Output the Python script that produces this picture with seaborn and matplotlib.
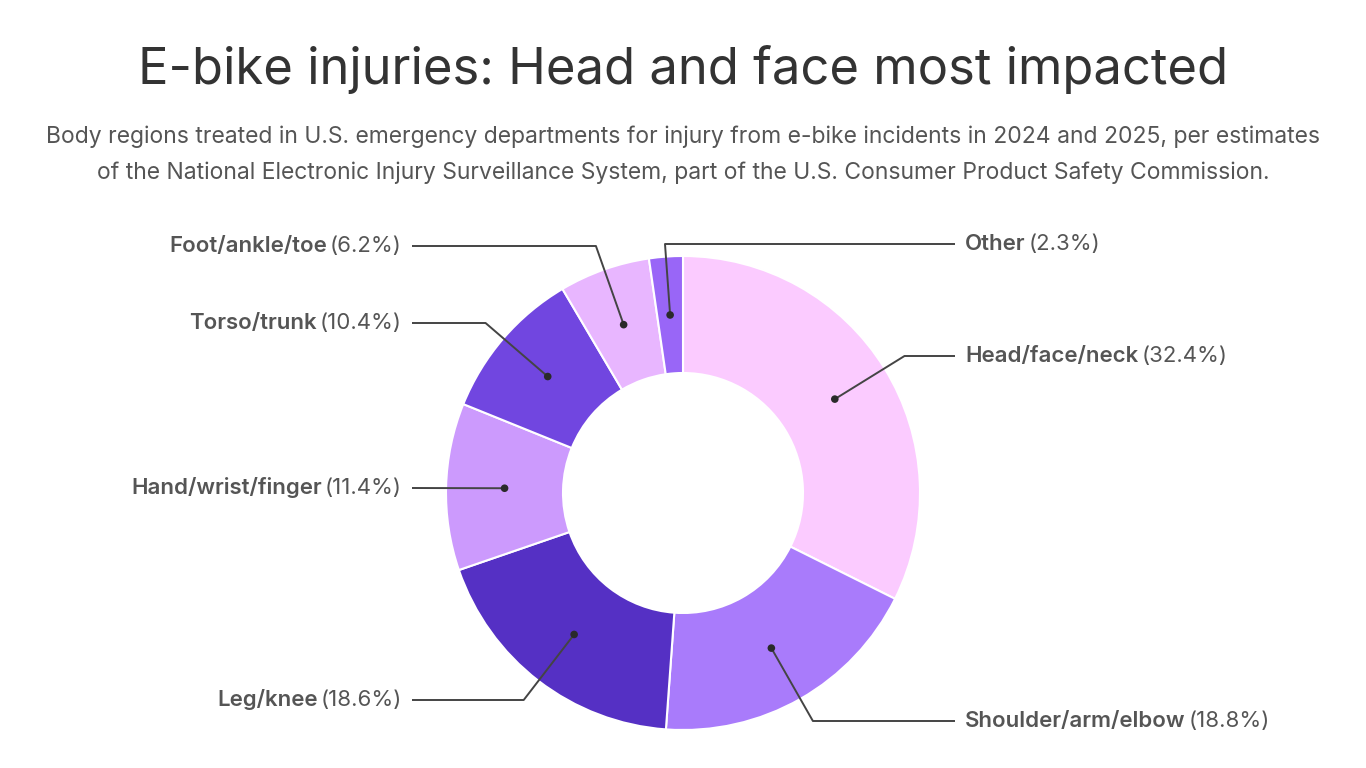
import matplotlib
matplotlib.use("Agg")
import matplotlib.pyplot as plt
import seaborn as sns
import numpy as np

# ---- data ----
categories = ["Head/face/neck", "Shoulder/arm/elbow", "Leg/knee", "Hand/wrist/finger",
              "Torso/trunk", "Foot/ankle/toe", "Other"]
shares = [32.4, 18.8, 18.6, 11.4, 10.4, 6.2, 2.3]
colors = ["#fbcbff", "#a97bfb", "#5530c4", "#cc9afd", "#7146e0", "#e8b6ff", "#9966f7"]
# layout: label row (pixel y from top) for each category, and side
label_rows = [356, 721, 700, 488, 323, 246, 244]
label_side = ["right", "right", "left", "left", "left", "left", "right"]

title = "E-bike injuries: Head and face most impacted"
subtitle = ["Body regions treated in U.S. emergency departments for injury from e-bike incidents in 2024 and 2025, per estimates",
            "of the National Electronic Injury Surveillance System, part of the U.S. Consumer Product Safety Commission."]

sns.set_theme(style="white")
plt.rcParams["font.family"] = ["Inter", "DejaVu Sans"]

W, H = 1366, 768
fig = plt.figure(figsize=(W / 100, H / 100), dpi=100)
ax = fig.add_axes([0, 0, 1, 1])

def Y(y):
    return H - y

cx, cy = 683, 493
R_out, R_in = 237, 120
pal = sns.color_palette(colors)
wedges, _ = ax.pie(shares, colors=pal, startangle=90, counterclock=False,
                   radius=R_out, center=(cx, Y(cy)),
                   wedgeprops=dict(width=R_out - R_in, edgecolor="white", linewidth=1.5))
ax.set_xlim(0, W)
ax.set_ylim(0, H)
ax.set_aspect("equal")
ax.axis("off")

fig.text(0.5, Y(69) / H, title, ha="center", va="center", fontsize=36.5, color="#333333")
fig.text(0.5, Y(137) / H, subtitle[0], ha="center", va="center", fontsize=16.5, color="#555555")
fig.text(0.5, Y(173) / H, subtitle[1], ha="center", va="center", fontsize=16.5, color="#555555")

renderer = fig.canvas.get_renderer()
r_mid = (R_out + R_in) / 2
line_color = "#444444"
fs = 16
for w, name, val, row, side in zip(wedges, categories, shares, label_rows, label_side):
    mid = np.deg2rad((w.theta1 + w.theta2) / 2)
    dx, dy = np.cos(mid), np.sin(mid)
    px, py = cx + r_mid * dx, Y(cy) + r_mid * dy
    ty = Y(row)
    end_x = 955 if side == "right" else 412
    if abs(dy) > 0.15:
        t = (ty - py) / dy
        ex, ey = px + t * dx, ty
        xs, ys = [px, ex, end_x], [py, ey, ty]
    else:
        xs, ys = [px, end_x], [py, ty]
    ax.plot(xs, ys, color=line_color, lw=1.4, solid_capstyle="butt", zorder=3)
    ax.scatter([px], [py], s=30, color="#2a2a2a", zorder=4, edgecolors="none")
    pct = f"({val:.1f}%)"
    if side == "right":
        t1 = ax.text(965, ty, name, ha="left", va="center", fontsize=fs,
                     fontweight="semibold", color="#555555")
        bb = t1.get_window_extent(renderer)
        ax.text(bb.x1 + 3, ty, pct, ha="left", va="center", fontsize=fs, color="#555555")
    else:
        t2 = ax.text(402, ty, pct, ha="right", va="center", fontsize=fs, color="#555555")
        bb = t2.get_window_extent(renderer)
        ax.text(bb.x0 - 3, ty, name, ha="right", va="center", fontsize=fs,
                fontweight="semibold", color="#555555")

fig.savefig("out.png", dpi=100, facecolor="white")
